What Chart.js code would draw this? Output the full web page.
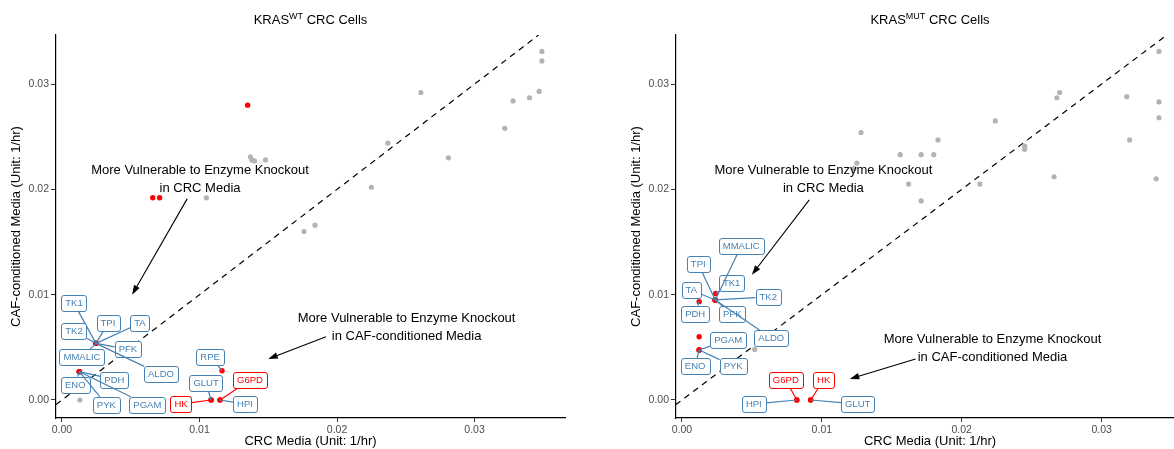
<!DOCTYPE html>
<html><head><meta charset="utf-8">
<script src="https://cdn.jsdelivr.net/npm/chart.js@4.4.1/dist/chart.umd.min.js"></script>
<style>
html,body{margin:0;padding:0;background:#fff;overflow:hidden;width:1174px;height:449px;position:relative;}
canvas{position:absolute;top:0;}
#c1{left:0}
#c2{left:587px}
</style></head><body>
<canvas id="c1" width="587" height="449"></canvas>
<canvas id="c2" width="601" height="449"></canvas>
<script>
// ---------------- data ----------------
const xTicks = [0, 0.01, 0.02, 0.03];
const yTicks = [0, 0.01, 0.02, 0.03];
const highlighted = ['HK', 'G6PD'];

// KRAS WT panel
const wtGrayX = [0.0137, 0.0138, 0.0140, 0.0148, 0.0105, 0.0225, 0.0176, 0.0184, 0.0237, 0.0261, 0.0281, 0.0322, 0.0328, 0.0340, 0.0347, 0.0349, 0.0349, 0.0013];
const wtGrayY = [0.0231, 0.0228, 0.0227, 0.0228, 0.0192, 0.0202, 0.0160, 0.0166, 0.0244, 0.0292, 0.0230, 0.0258, 0.0284, 0.0287, 0.0293, 0.0331, 0.0322, 0.0000];
const wtRedX = [0.0135, 0.0066, 0.0071];
const wtRedY = [0.0280, 0.0192, 0.0192];
const wtLabels = ['TK1', 'TK2', 'TPI', 'TA', 'PFK', 'MMALIC', 'ALDO', 'PDH', 'ENO', 'PYK', 'PGAM', 'HK', 'GLUT', 'G6PD', 'HPI', 'RPE'];
const wtLabelX = [0.00247, 0.00247, 0.00247, 0.00247, 0.00247, 0.00247, 0.00247, 0.00126, 0.00126, 0.00126, 0.00126, 0.01084, 0.01084, 0.01149, 0.01149, 0.01164];
const wtLabelY = [0.00538, 0.00538, 0.00538, 0.00538, 0.00538, 0.00538, 0.00538, 0.00269, 0.00269, 0.00269, 0.00269, 0, 0, 0, 0, 0.00278];

// KRAS MUT panel
const mutGrayX = [0.0128, 0.0125, 0.0123, 0.0162, 0.0156, 0.0171, 0.0180, 0.0183, 0.0171, 0.0213, 0.0224, 0.0245, 0.0245, 0.0266, 0.0268, 0.0270, 0.0318, 0.0320, 0.0339, 0.0341, 0.0341, 0.0341, 0.0052];
const mutGrayY = [0.0254, 0.0225, 0.0220, 0.0205, 0.0233, 0.0233, 0.0233, 0.0247, 0.0189, 0.0205, 0.0265, 0.0241, 0.0238, 0.0212, 0.0287, 0.0292, 0.0288, 0.0247, 0.0210, 0.0331, 0.0283, 0.0268, 0.0048];
const mutRedX = [0.00123];
const mutRedY = [0.00601];
const mutLabels = ['TK1', 'PFK', 'TPI', 'TA', 'TK2', 'MMALIC', 'ALDO', 'PDH', 'PGAM', 'ENO', 'PYK', 'G6PD', 'HPI', 'HK', 'GLUT'];
const mutLabelX = [0.00241, 0.00238, 0.00238, 0.00238, 0.00238, 0.00238, 0.00238, 0.00123, 0.00123, 0.00123, 0.00123, 0.00821, 0.00821, 0.00920, 0.00920];
const mutLabelY = [0.01011, 0.00950, 0.00950, 0.00950, 0.00950, 0.00950, 0.00950, 0.00934, 0.00475, 0.00475, 0.00475, 0, 0, 0, 0];

// ---------------- layout / style ----------------
const FONT = '"Liberation Sans", Arial, Helvetica, sans-serif';
const BLUE = '#4682B4', RED = '#FF0000', GRAY = '#B3B3B3';
const yMin = -0.00171, yMax = 0.03466;

const wtOffsets = {TK1:[-22,-40], TK2:[-22,-12], TPI:[12,-20], TA:[44,-20], PFK:[32,6], MMALIC:[-14,14], ALDO:[65,31],
  PDH:[35,8], ENO:[-4,13], PYK:[27,33], PGAM:[68,33], HK:[-30,4], GLUT:[-5,-17], G6PD:[30,-20], HPI:[25,4], RPE:[-12,-14]};
const mutOffsets = {TK1:[16,-11], MMALIC:[26,-54], TPI:[-17,-36], TA:[-24,-10], TK2:[53,-3], PFK:[17,14], ALDO:[56,38],
  PDH:[-4,12], PGAM:[29,-10], ENO:[-4,16], PYK:[34,16], G6PD:[-11,-20], HPI:[-43,4], HK:[13,-20], GLUT:[47,4]};

const annText1 = ['More Vulnerable to Enzyme Knockout', 'in CRC Media'];
const annText2 = ['More Vulnerable to Enzyme Knockout', 'in CAF-conditioned Media'];

const wtPanel = {
  title: ['KRAS', 'WT', ' CRC Cells'], xMin: -0.000436, xMax: 0.03658,
  labels: wtLabels, lx: wtLabelX, ly: wtLabelY, offsets: wtOffsets,
  notes: [{text: annText1, x: 0.01004, y: 0.02096}, {text: annText2, x: 0.02506, y: 0.00691}],
  arrows: [[0.0091, 0.0191, 0.0051, 0.0100], [0.0192, 0.0060, 0.0150, 0.0039]],
  yWidth: 56, padRight: 22, yTitlePad: 9
};
const mutPanel = {
  title: ['KRAS', 'MUT', ' CRC Cells'], xMin: -0.000426, xMax: 0.03589,
  labels: mutLabels, lx: mutLabelX, ly: mutLabelY, offsets: mutOffsets,
  notes: [{text: annText1, x: 0.01011, y: 0.02096}, {text: annText2, x: 0.02220, y: 0.00491}],
  arrows: [[0.0091, 0.0190, 0.0050, 0.0119], [0.0167, 0.0039, 0.0120, 0.0020]],
  yWidth: 89, padRight: 0, yTitlePad: 42
};

function pts(xs, ys) { return xs.map((v, i) => ({x: v, y: ys[i]})); }

function roundRect(ctx, x, y, w, h, r) {
  ctx.beginPath();
  ctx.moveTo(x + r, y);
  ctx.lineTo(x + w - r, y); ctx.arcTo(x + w, y, x + w, y + r, r);
  ctx.lineTo(x + w, y + h - r); ctx.arcTo(x + w, y + h, x + w - r, y + h, r);
  ctx.lineTo(x + r, y + h); ctx.arcTo(x, y + h, x, y + h - r, r);
  ctx.lineTo(x, y + r); ctx.arcTo(x, y, x + r, y, r);
  ctx.closePath();
}

const decorPlugin = {
  id: 'decor',
  afterDatasetsDraw(chart, args, opts) {
    const p = opts.panel;
    const {ctx, scales: {x, y}} = chart;
    ctx.save();
    // annotations
    ctx.fillStyle = '#000';
    ctx.font = '13px ' + FONT;
    ctx.textAlign = 'center';
    ctx.textBaseline = 'middle';
    p.notes.forEach(n => {
      const cx = x.getPixelForValue(n.x), cy = y.getPixelForValue(n.y);
      ctx.fillText(n.text[0], cx, cy - 9.3);
      ctx.fillText(n.text[1], cx, cy + 9.3);
    });
    // arrows
    ctx.strokeStyle = '#000'; ctx.lineWidth = 1.1;
    p.arrows.forEach(a => {
      const x1 = x.getPixelForValue(a[0]), y1 = y.getPixelForValue(a[1]);
      const x2 = x.getPixelForValue(a[2]), y2 = y.getPixelForValue(a[3]);
      const ang = Math.atan2(y2 - y1, x2 - x1);
      const L = 10, hw = 0.33;
      ctx.beginPath(); ctx.moveTo(x1, y1);
      ctx.lineTo(x2 - Math.cos(ang) * 4, y2 - Math.sin(ang) * 4); ctx.stroke();
      ctx.beginPath();
      ctx.moveTo(x2, y2);
      ctx.lineTo(x2 - L * Math.cos(ang - hw), y2 - L * Math.sin(ang - hw));
      ctx.lineTo(x2 - L * Math.cos(ang + hw), y2 - L * Math.sin(ang + hw));
      ctx.closePath(); ctx.fillStyle = '#000'; ctx.fill();
    });
    // repel-style labels
    ctx.font = '9.5px ' + FONT;
    p.labels.forEach((name, i) => {
      const px = x.getPixelForValue(p.lx[i]), py = y.getPixelForValue(p.ly[i]);
      const off = p.offsets[name];
      const cx = px + off[0], cy = py + off[1];
      const col = highlighted.includes(name) ? RED : BLUE;
      const w = ctx.measureText(name).width + 8, h = 16;
      const ddx = px - cx, ddy = py - cy;
      const t = Math.min(ddx ? (w / 2) / Math.abs(ddx) : Infinity, ddy ? (h / 2) / Math.abs(ddy) : Infinity);
      ctx.strokeStyle = col; ctx.lineWidth = 1.2;
      if (t < 1) {
        ctx.beginPath();
        ctx.moveTo(cx + ddx * t, cy + ddy * t);
        ctx.lineTo(px, py);
        ctx.stroke();
      }
      ctx.fillStyle = '#fff';
      roundRect(ctx, Math.round(cx - w / 2) + 0.5, Math.round(cy - h / 2) + 0.5, Math.round(w), h, 2.5);
      ctx.fill();
      ctx.lineWidth = 1;
      ctx.stroke();
      ctx.fillStyle = col;
      ctx.textAlign = 'center'; ctx.textBaseline = 'middle';
      ctx.fillText(name, cx, cy + 0.5);
    });
    ctx.restore();
  },
  afterDraw(chart, args, opts) {
    const p = opts.panel;
    const {ctx, chartArea} = chart;
    ctx.save();
    ctx.fillStyle = '#000';
    ctx.textBaseline = 'alphabetic';
    ctx.textAlign = 'left';
    const big = '13px ' + FONT, small = '9px ' + FONT;
    ctx.font = big; const w1 = ctx.measureText(p.title[0]).width, w3 = ctx.measureText(p.title[2]).width;
    ctx.font = small; const w2 = ctx.measureText(p.title[1]).width;
    const total = w1 + w2 + w3;
    let sx = (chartArea.left + chartArea.right) / 2 - total / 2;
    const base = 24;
    ctx.font = big; ctx.fillText(p.title[0], sx, base); sx += w1;
    ctx.font = small; ctx.fillText(p.title[1], sx, base - 5.5); sx += w2;
    ctx.font = big; ctx.fillText(p.title[2], sx, base);
    ctx.restore();
  }
};

function makeChart(id, p, grayX, grayY, redX, redY) {
  const lineData = [{x: yMin, y: yMin}, {x: yMax, y: yMax}];
  return new Chart(document.getElementById(id), {
    type: 'scatter',
    data: {
      datasets: [
        {data: pts(redX, redY).concat(pts(p.lx, p.ly)), backgroundColor: RED, borderWidth: 0, pointRadius: 2.7, order: 1},
        {data: pts(grayX, grayY), backgroundColor: GRAY, borderWidth: 0, pointRadius: 2.6, order: 2},
        {type: 'line', data: lineData, borderColor: '#000', borderWidth: 1.2, borderDash: [6, 5], pointRadius: 0, fill: false, order: 3}
      ]
    },
    options: {
      responsive: false, animation: false, devicePixelRatio: 1,
      layout: {padding: {left: 0, right: p.padRight, top: 35, bottom: 0}},
      plugins: {legend: {display: false}, tooltip: {enabled: false}, decor: {panel: p}},
      scales: {
        x: {
          type: 'linear', min: p.xMin, max: p.xMax,
          afterBuildTicks: s => { s.ticks = xTicks.map(v => ({value: v})); },
          afterFit: s => { s.height = 31; },
          ticks: {callback: v => v.toFixed(2), font: {family: FONT, size: 10.5}, color: '#4D4D4D', padding: 2, maxRotation: 0, autoSkip: false},
          grid: {display: true, drawOnChartArea: false, drawTicks: true, tickLength: 4, tickColor: '#333', tickWidth: 1},
          border: {display: true, color: '#000', width: 1.2},
          title: {display: true, text: 'CRC Media (Unit: 1/hr)', font: {family: FONT, size: 13}, color: '#000', padding: {top: 0, bottom: 0}}
        },
        y: {
          type: 'linear', min: yMin, max: yMax,
          afterBuildTicks: s => { s.ticks = yTicks.map(v => ({value: v})); },
          afterFit: s => { s.width = p.yWidth; },
          ticks: {callback: v => v.toFixed(2), font: {family: FONT, size: 10.5}, color: '#4D4D4D', padding: 2, autoSkip: false},
          grid: {display: true, drawOnChartArea: false, drawTicks: true, tickLength: 5, tickColor: '#333', tickWidth: 1},
          border: {display: true, color: '#000', width: 1.2},
          title: {display: true, text: 'CAF-conditioned Media (Unit: 1/hr)', font: {family: FONT, size: 13}, color: '#000', padding: {top: p.yTitlePad, bottom: 0}}
        }
      }
    },
    plugins: [decorPlugin]
  });
}

makeChart('c1', wtPanel, wtGrayX, wtGrayY, wtRedX, wtRedY);
makeChart('c2', mutPanel, mutGrayX, mutGrayY, mutRedX, mutRedY);
</script>
</body></html>
